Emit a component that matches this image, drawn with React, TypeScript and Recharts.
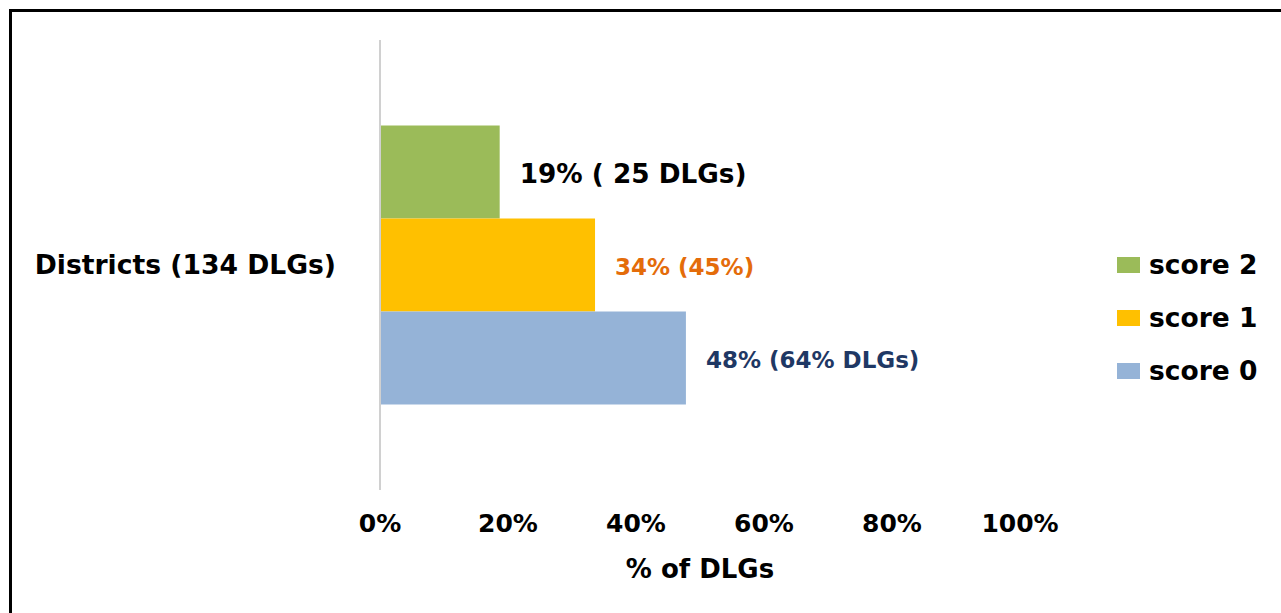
import React from "react";
import {
  BarChart,
  Bar,
  XAxis,
  YAxis,
  Legend,
  LabelList,
} from "recharts";

// one category, three score groups (share of DLGs, in %)
const categories = ["Districts (134 DLGs)"];
const score2 = [18.7];
const score1 = [33.6];
const score0 = [47.8];
const barLabels = {
  score2: ["19% ( 25 DLGs)"],
  score1: ["34% (45%)"],
  score0: ["48% (64% DLGs)"],
};
const xTicks = [0, 20, 40, 60, 80, 100];

const FONT = "'DejaVu Sans', Verdana, sans-serif";

const series = [
  { key: "score2", name: "score 2", color: "#9BBB59", labelColor: "#000000", labelSize: 26.3 },
  { key: "score1", name: "score 1", color: "#FFC000", labelColor: "#E46C0A", labelSize: 23 },
  { key: "score0", name: "score 0", color: "#95B3D7", labelColor: "#1F3864", labelSize: 23 },
];

const data = categories.map((c, i) => ({
  category: c,
  score2: score2[i],
  score1: score1[i],
  score0: score0[i],
}));

const makeLabel =
  (texts: string[], color: string, size: number) => (props: any) => {
    const { x, y, width, height, index } = props;
    return (
      <text
        x={x + width + 20}
        y={y + height / 2 + 2}
        fill={color}
        fontSize={size}
        fontWeight="bold"
        fontFamily={FONT}
        dominantBaseline="central"
      >
        {texts[index]}
      </text>
    );
  };

// keep legend rows in the same order as the series
const LegendBox = ({ payload }: any) => {
  const items = [...(payload || [])].sort(
    (a: any, b: any) =>
      series.findIndex((s) => s.name === a.value) -
      series.findIndex((s) => s.name === b.value)
  );
  return (
    <div style={{ fontFamily: FONT, whiteSpace: "nowrap" }}>
      {items.map((p: any) => (
        <div
          key={p.value}
          style={{ display: "flex", alignItems: "center", height: 53 }}
        >
          <span
            style={{
              display: "inline-block",
              width: 23,
              height: 16,
              background: p.color,
              marginRight: 9,
              flexShrink: 0,
            }}
          />
          <span style={{ fontSize: 26.5, fontWeight: "bold", color: "#000" }}>
            {p.value}
          </span>
        </div>
      ))}
    </div>
  );
};

export default function App() {
  return (
    <div
      style={{
        position: "absolute",
        left: 0,
        top: 0,
        width: 1281,
        height: 613,
        overflow: "hidden",
        background: "#fff",
      }}
    >
      <div
        style={{
          position: "absolute",
          left: 9,
          top: 9,
          width: 1400,
          height: 800,
          border: "3px solid #000",
        }}
      />
      <div style={{ position: "absolute", left: 0, top: 0 }}>
        <BarChart
          width={1281}
          height={613}
          data={data}
          layout="vertical"
          margin={{ top: 40, right: 261, bottom: 0, left: 0 }}
          barCategoryGap="19%"
          barGap={0}
        >
          <XAxis
            type="number"
            domain={[0, 100]}
            ticks={xTicks}
            tickFormatter={(v) => `${v}%`}
            axisLine={false}
            tickLine={false}
            tickSize={0}
            tickMargin={24}
            height={123}
            tick={{ fill: "#000", fontSize: 25, fontWeight: "bold", fontFamily: FONT }}
            label={{
              value: "% of DLGs",
              position: "insideTop",
              offset: 70,
              fill: "#000",
              fontSize: 26,
              fontWeight: "bold",
              fontFamily: FONT,
            }}
          />
          <YAxis
            type="category"
            dataKey="category"
            width={380}
            axisLine={{ stroke: "#D0D0D0", strokeWidth: 2 }}
            tickLine={false}
            tickSize={0}
            tickMargin={44}
            tick={{ fill: "#000", fontSize: 26.6, fontWeight: "bold", fontFamily: FONT }}
          />
          <Legend
            layout="horizontal"
            verticalAlign="middle"
            align="right"
            content={<LegendBox />}
            wrapperStyle={{
              left: 1117,
              top: 238,
              right: "auto",
              bottom: "auto",
              width: 0,
              overflow: "visible",
            }}
          />
          {series.map((s) => (
            <Bar
              key={s.key}
              dataKey={s.key}
              name={s.name}
              fill={s.color}
              isAnimationActive={false}
            >
              <LabelList
                dataKey={s.key}
                content={makeLabel(
                  (barLabels as any)[s.key],
                  s.labelColor,
                  s.labelSize
                )}
              />
            </Bar>
          ))}
        </BarChart>
      </div>
    </div>
  );
}
